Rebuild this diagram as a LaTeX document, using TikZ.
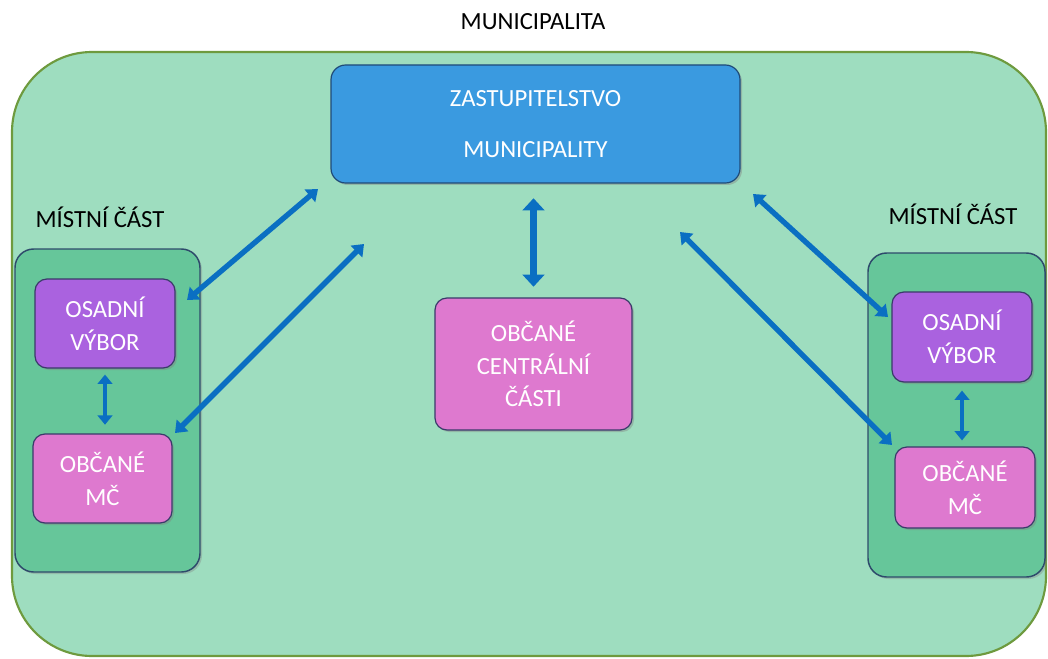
\documentclass[tikz,border=0pt]{standalone}
\usepackage{fontspec}
\setmainfont{Carlito}
\usetikzlibrary{arrows.meta,shadows}
\definecolor{mint}{HTML}{9EDDBF}
\definecolor{olive}{HTML}{6E9A3E}
\definecolor{grpfill}{HTML}{66C69A}
\definecolor{grpline}{HTML}{2E4A6B}
\definecolor{bluefill}{HTML}{3A9AE0}
\definecolor{blueline}{HTML}{1F4A78}
\definecolor{purplefill}{HTML}{AA62DF}
\definecolor{pinkfill}{HTML}{DE79CF}
\definecolor{boxline}{HTML}{3A3A6A}
\definecolor{arrowblue}{HTML}{0A6FC2}
\tikzset{
  outerbox/.style={fill=mint, draw=olive, line width=1.6pt, rounded corners=60pt},
  groupbox/.style={fill=grpfill, draw=grpline, line width=1.1pt, rounded corners=14pt,
    drop shadow={shadow xshift=1.5pt, shadow yshift=-1.5pt, opacity=0.35}},
  cardbox/.style={draw=boxline, line width=0.9pt, rounded corners=9pt, text=white,
    align=center, font=\fontsize{18.5}{24.5}\selectfont,
    drop shadow={shadow xshift=1.5pt, shadow yshift=-1.5pt, opacity=0.4}},
  bluebox/.style={cardbox, fill=bluefill, draw=blueline, rounded corners=11pt,
    font=\fontsize{18.5}{38}\selectfont},
  purplebox/.style={cardbox, fill=purplefill},
  pinkbox/.style={cardbox, fill=pinkfill},
  label/.style={text=black, font=\fontsize{18.5}{22}\selectfont},
  biarrow/.style={draw=arrowblue, line width=4pt,
    {Triangle[length=8pt,width=12pt]}-{Triangle[length=8pt,width=12pt]}},
  smallarrow/.style={draw=arrowblue, line width=3.5pt,
    {Triangle[length=7pt,width=11pt]}-{Triangle[length=7pt,width=11pt]}},
  bigarrow/.style={draw=arrowblue, line width=5pt,
    {Triangle[length=9pt,width=16pt]}-{Triangle[length=9pt,width=16pt]}}
}
\begin{document}
\begin{tikzpicture}[x=0.75pt,y=-0.75pt]
\useasboundingbox (0,0) rectangle (1048,659);
% outer municipality area
\path[outerbox] (12,52) rectangle (1046,656);
\node[label] (title) at (533,22) {MUNICIPALITA};

% council
\node[bluebox, minimum width=306.75pt, minimum height=88.5pt] (zast) at (535.5,124)
  {ZASTUPITELSTVO\\MUNICIPALITY};

% left local part
\node[label] (llabel) at (100,217) {MÍSTNÍ ČÁST};
\node[groupbox, minimum width=138.75pt, minimum height=242.25pt] (lgroup) at (107.5,410.5) {};
\node[purplebox, minimum width=105pt, minimum height=66.75pt] (losad) at (105,323.5) {OSADNÍ\\VÝBOR};
\node[pinkbox, minimum width=104.25pt, minimum height=66.75pt] (lobc) at (102.5,478.5) {OBČANÉ\\MČ};

% central citizens
\node[pinkbox, minimum width=147.75pt, minimum height=99pt] (cent) at (533.5,364) {OBČANÉ\\CENTRÁLNÍ\\ČÁSTI};

% right local part
\node[label] (rlabel) at (953,214) {MÍSTNÍ ČÁST};
\node[groupbox, minimum width=132.75pt, minimum height=243pt] (rgroup) at (956.5,415) {};
\node[purplebox, minimum width=105pt, minimum height=67.5pt] (rosad) at (962,337) {OSADNÍ\\VÝBOR};
\node[pinkbox, minimum width=105pt, minimum height=60.75pt] (robc) at (965,487.5) {OBČANÉ\\MČ};

% free ends of diagonal connectors
\coordinate (lt1) at (318,189);
\coordinate (lt2) at (187,300);
\coordinate (lb1) at (364,244);
\coordinate (lb2) at (175,433);
\coordinate (rt1) at (753,194);
\coordinate (rt2) at (888,317);
\coordinate (rb1) at (680,232);
\coordinate (rb2) at (892,445);

% connectors
\draw[biarrow] (lt1) -- (lt2);
\draw[biarrow] (lb1) -- (lb2);
\draw[biarrow] (rt1) -- (rt2);
\draw[biarrow] (rb1) -- (rb2);
\draw[bigarrow, shorten <=11pt, shorten >=8pt] (zast.south -| cent.north) -- (cent.north);
\draw[smallarrow, shorten <=4.5pt, shorten >=6.5pt] (losad.south) -- (losad.south |- lobc.north);
\draw[smallarrow, shorten <=6pt, shorten >=4.5pt] (rosad.south) -- (rosad.south |- robc.north);
\end{tikzpicture}
\end{document}
